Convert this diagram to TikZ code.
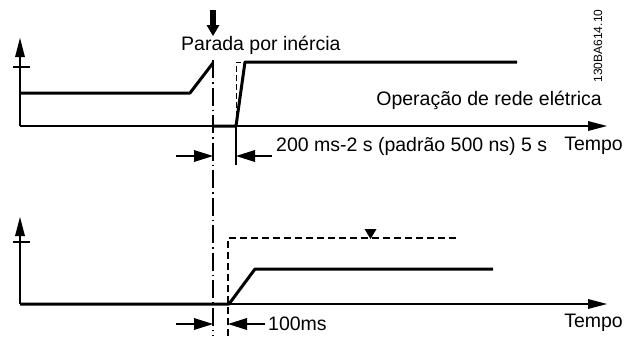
\documentclass[tikz,border=0pt]{standalone}
\usepackage{fontspec}
\setmainfont{Liberation Sans}
\usetikzlibrary{arrows.meta}
\begin{document}
\begin{tikzpicture}[x=1pt,y=-1pt,
  axisline/.style={line width=1.5pt},
  sig/.style={line width=3pt,line join=round},
  thinline/.style={line width=1.2pt},
  head/.style={fill=black,draw=none},
  lbl/.style={font=\fontsize{19.5}{22}\selectfont,inner sep=0pt},
  dashdot/.style={line width=1.2pt,dash pattern=on 18pt off 4pt on 1.5pt off 4pt},
  dsh/.style={line width=1.2pt,dash pattern=on 7pt off 4pt}]
\useasboundingbox (0,0) rectangle (634,338);
% ---------- top panel ----------
\coordinate (o1) at (20,126);
\coordinate (y1) at (20,52);
\coordinate (x1) at (592,126);
\draw[axisline] (o1) -- (y1);
\draw[axisline] (o1) -- (x1);
\fill[head] (15,57) -- (20,38) -- (25,57) -- cycle;
\fill[head] (588,121) -- (607,126) -- (588,131) -- cycle;
\draw[thinline] (13,67) -- (30,67);
\draw[sig] (20,93) -- (190,93) -- (213,63);
\draw[sig] (213,126) -- (236,126) -- (245,62) -- (517,62);
\draw[line width=1pt,dash pattern=on 6pt off 3pt] (236,126) -- (236,62) -- (245,62);
\draw[thinline] (236,126) -- (236,165);
% down arrow
\draw[line width=6pt] (213,10) -- (213,26);
\fill[head] (206.5,25) -- (219.5,25) -- (213,36) -- cycle;
% dimension arrows
\draw[axisline] (176,156) -- (200,156);
\fill[head] (194,150) -- (213,156) -- (194,162) -- cycle;
\draw[axisline] (272,156) -- (250,156);
\fill[head] (255,150) -- (236,156) -- (255,162) -- cycle;
% labels
\node[lbl,anchor=west] (parada) at (181,45) {Parada por inércia};
\node[lbl,anchor=east] (oper) at (602,100) {Operação de rede elétrica};
\node[lbl,anchor=west] (dur) at (276,146) {200 ms-2 s (padrão 500 ns) 5 s};
\node[lbl,anchor=east] (tempo1) at (623,146) {Tempo};
\node[rotate=90,inner sep=0pt,font=\fontsize{12}{13}\selectfont] (code) at (598,46) {130BA614.10};
% ---------- dash-dot line ----------
\draw[dashdot] (213,60) -- (213,336);
% ---------- bottom panel ----------
\coordinate (o2) at (20,304);
\coordinate (y2) at (20,230);
\coordinate (x2) at (592,304);
\draw[axisline] (o2) -- (y2);
\draw[axisline] (o2) -- (x2);
\fill[head] (15,236) -- (20,217) -- (25,236) -- cycle;
\fill[head] (588,299) -- (607,304) -- (588,309) -- cycle;
\draw[thinline] (13,242) -- (30,242);
\draw[sig] (20,304) -- (229,304) -- (255,269) -- (493,269);
\draw[dsh] (228,336) -- (228,238) -- (459,238);
\fill[head] (364.5,229) -- (376.5,229) -- (370.5,239) -- cycle;
\draw[axisline] (176,324) -- (200,324);
\fill[head] (194,318) -- (213,324) -- (194,330) -- cycle;
\draw[axisline] (265,324) -- (242,324);
\fill[head] (247,318) -- (228,324) -- (247,330) -- cycle;
\node[lbl,anchor=west] (ms) at (268,324) {100ms};
\node[lbl,anchor=east] (tempo2) at (623,323) {Tempo};
\end{tikzpicture}
\end{document}
